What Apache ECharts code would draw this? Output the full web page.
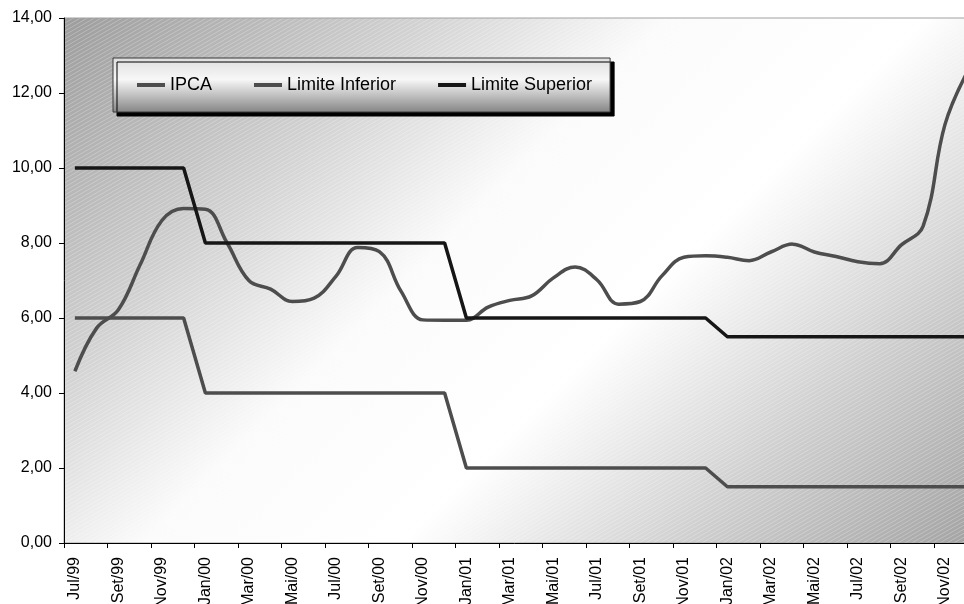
<!DOCTYPE html>
<html>
<head>
<meta charset="utf-8">
<script src="https://cdn.jsdelivr.net/npm/echarts@6/dist/echarts.min.js"></script>
<style>
  html, body { margin: 0; padding: 0; background: #ffffff; }
  #chart { width: 964px; height: 604px; }
</style>
</head>
<body>
<div id="chart"></div>
<script>
// Monthly categories, Jul/99 .. Dez/02
const months = [
  'Jul/99','Ago/99','Set/99','Out/99','Nov/99','Dez/99',
  'Jan/00','Fev/00','Mar/00','Abr/00','Mai/00','Jun/00','Jul/00','Ago/00','Set/00','Out/00','Nov/00','Dez/00',
  'Jan/01','Fev/01','Mar/01','Abr/01','Mai/01','Jun/01','Jul/01','Ago/01','Set/01','Out/01','Nov/01','Dez/01',
  'Jan/02','Fev/02','Mar/02','Abr/02','Mai/02','Jun/02','Jul/02','Ago/02','Set/02','Out/02','Nov/02','Dez/02'
];

// IPCA accumulated over 12 months (%)
const ipca = [
  4.58, 5.73, 6.22, 7.42, 8.60, 8.92,
  8.90, 8.00, 7.00, 6.77, 6.44, 6.53, 7.11, 7.88, 7.77, 6.71, 5.95, 5.94,
  5.94, 6.29, 6.47, 6.59, 7.07, 7.36, 7.02, 6.37, 6.44, 7.13, 7.62, 7.66,
  7.62, 7.53, 7.76, 7.97, 7.76, 7.64, 7.50, 7.45, 7.95, 8.45, 11.15, 12.53
];

// Inflation target band
const limiteInferior = [
  6, 6, 6, 6, 6, 6,
  4, 4, 4, 4, 4, 4, 4, 4, 4, 4, 4, 4,
  2, 2, 2, 2, 2, 2, 2, 2, 2, 2, 2, 2,
  1.5, 1.5, 1.5, 1.5, 1.5, 1.5, 1.5, 1.5, 1.5, 1.5, 1.5, 1.5
];
const limiteSuperior = [
  10, 10, 10, 10, 10, 10,
  8, 8, 8, 8, 8, 8, 8, 8, 8, 8, 8, 8,
  6, 6, 6, 6, 6, 6, 6, 6, 6, 6, 6, 6,
  5.5, 5.5, 5.5, 5.5, 5.5, 5.5, 5.5, 5.5, 5.5, 5.5, 5.5, 5.5
];

const FONT = "'Liberation Sans', Arial, sans-serif";
// the plot runs a little past the right edge of the canvas
const GRID = { left: 64, top: 18, width: 913.5, height: 525 };

// fine diagonal hatch used over the plot background
function hatchPattern() {
  const c = document.createElement('canvas');
  c.width = 7; c.height = 4;
  const g = c.getContext('2d');
  g.strokeStyle = 'rgba(255,255,255,0.38)';
  g.lineWidth = 0.7;
  g.beginPath();
  g.moveTo(-7, 8); g.lineTo(14, -4);
  g.moveTo(0, 8); g.lineTo(14, 0);
  g.moveTo(-7, 4); g.lineTo(7, -4);
  g.stroke();
  return { image: c, repeat: 'repeat' };
}

// 45-degree sweep: grey corner, white band, grey corner
const span = (GRID.width + GRID.height) / 2;
const plotFill = new echarts.graphic.LinearGradient(
  GRID.left, GRID.top, GRID.left + span, GRID.top + span, [
    { offset: 0, color: '#9c9c9c' },
    { offset: 0.25, color: '#d2d2d2' },
    { offset: 0.42, color: '#fbfbfb' },
    { offset: 0.6, color: '#ffffff' },
    { offset: 0.8, color: '#cecece' },
    { offset: 1, color: '#a2a2a2' }
  ], true);

const chart = echarts.init(document.getElementById('chart'), null, { renderer: 'canvas' });

chart.setOption({
  animation: false,
  backgroundColor: '#ffffff',
  textStyle: { fontFamily: FONT },
  grid: {
    left: GRID.left, top: GRID.top,
    width: GRID.width, height: GRID.height,
    outerBoundsMode: 'none',
    containLabel: false,
    show: true,
    borderColor: '#a0a0a0',
    borderWidth: 1,
    backgroundColor: 'transparent'
  },
  graphic: [
    {
      type: 'rect', silent: true, z: -10,
      shape: { x: GRID.left, y: GRID.top, width: GRID.width, height: GRID.height },
      style: { fill: plotFill }
    },
    {
      type: 'rect', silent: true, z: -9,
      shape: { x: GRID.left, y: GRID.top, width: GRID.width, height: GRID.height },
      style: { fill: hatchPattern() }
    }
  ],
  legend: {
    left: 113, top: 58,
    padding: [18, 18, 18, 24],
    itemGap: 42,
    itemWidth: 28,
    itemHeight: 4,
    icon: 'rect',
    textStyle: { fontSize: 18, color: '#000', fontFamily: FONT },
    borderColor: '#3a3a3a',
    borderWidth: 1,
    backgroundColor: new echarts.graphic.LinearGradient(0, 0, 0, 1, [
      { offset: 0, color: '#dedede' },
      { offset: 0.4, color: '#f7f7f7' },
      { offset: 1, color: '#858585' }
    ]),
    shadowColor: '#000',
    shadowBlur: 0,
    shadowOffsetX: 4,
    shadowOffsetY: 4,
    data: ['IPCA', 'Limite Inferior', 'Limite Superior']
  },
  xAxis: {
    type: 'category',
    data: months,
    boundaryGap: true,
    axisLine: { lineStyle: { color: '#000', width: 1 } },
    axisTick: { show: true, interval: 1, length: 5, lineStyle: { color: '#000' } },
    axisLabel: {
      interval: 1, rotate: 90, margin: 14,
      fontSize: 16, color: '#000', fontFamily: FONT
    },
    splitLine: { show: false }
  },
  yAxis: {
    type: 'value',
    min: 0, max: 14, interval: 2,
    axisLine: { show: true, lineStyle: { color: '#000', width: 1 } },
    axisTick: { show: true, length: 5, lineStyle: { color: '#000' } },
    axisLabel: {
      margin: 12, fontSize: 16, color: '#000', fontFamily: FONT,
      formatter: v => v.toFixed(2).replace('.', ',')
    },
    splitLine: { show: false }
  },
  series: [
    {
      name: 'IPCA', type: 'line', data: ipca,
      smooth: 0.4, symbol: 'none',
      lineStyle: { color: '#4d4d4d', width: 3.5 },
      itemStyle: { color: '#4d4d4d' }
    },
    {
      name: 'Limite Inferior', type: 'line', data: limiteInferior,
      symbol: 'none',
      lineStyle: { color: '#4d4d4d', width: 3.5 },
      itemStyle: { color: '#4d4d4d' }
    },
    {
      name: 'Limite Superior', type: 'line', data: limiteSuperior,
      symbol: 'none',
      lineStyle: { color: '#161616', width: 3.5 },
      itemStyle: { color: '#161616' }
    }
  ]
});
</script>
</body>
</html>
